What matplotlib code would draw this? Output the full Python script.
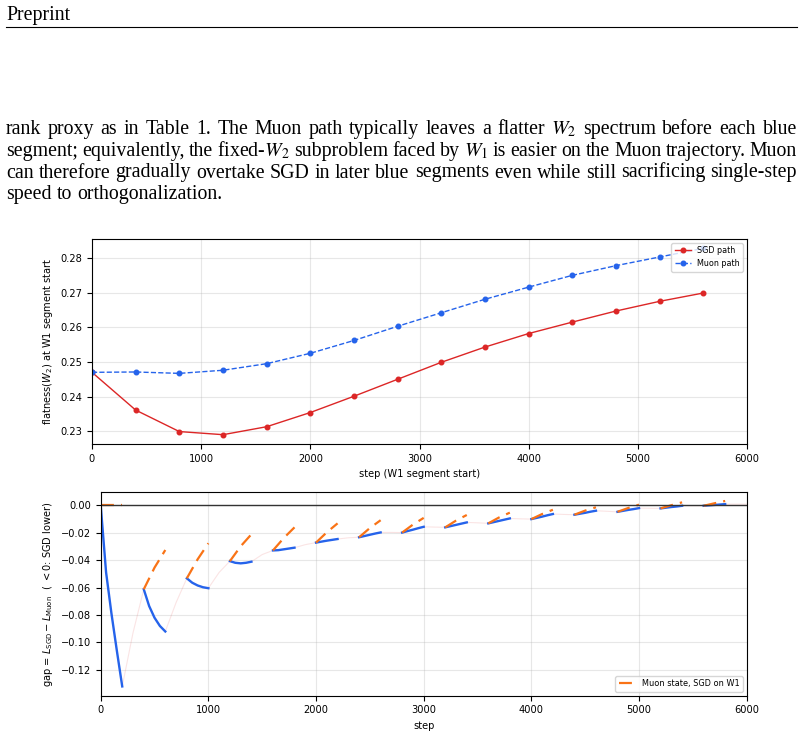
import matplotlib
matplotlib.use("Agg")
import matplotlib.pyplot as plt

W, H = 804, 734

# top panel: flatness of W2 at the start of each W1 segment
seg_start = [0, 400, 800, 1200, 1600, 2000, 2400, 2800, 3200, 3600, 4000, 4400, 4800, 5200, 5600]
sgd_flat = [0.2470, 0.2361, 0.2299, 0.2290, 0.2313, 0.2354, 0.2401, 0.2450, 0.2499, 0.2543,
            0.2582, 0.2615, 0.2647, 0.2675, 0.2699]
muon_flat = [0.2470, 0.2471, 0.2467, 0.2476, 0.2495, 0.2525, 0.2562, 0.2603, 0.2642, 0.2681,
             0.2716, 0.2750, 0.2778, 0.2803, 0.2828]

# bottom panel: gap during the blue (W1) segments
blue_off = [0, 50, 100, 150, 200]
blue_gap = [
    [0.0, -0.049, -0.079, -0.106, -0.132],
    [-0.0613, -0.0735, -0.0820, -0.0880, -0.0920],
    [-0.0533, -0.0565, -0.0585, -0.0598, -0.0605],
    [-0.0408, -0.0420, -0.0424, -0.0420, -0.0412],
    [-0.0330, -0.0328, -0.0322, -0.0316, -0.0310],
    [-0.0273, -0.0266, -0.0259, -0.0253, -0.0247],
    [-0.0234, -0.0225, -0.0216, -0.0207, -0.0199],
    [-0.0200, -0.0189, -0.0179, -0.0168, -0.0158],
    [-0.0162, -0.0153, -0.0144, -0.0135, -0.0126],
    [-0.0133, -0.0124, -0.0115, -0.0106, -0.0097],
    [-0.0102, -0.0093, -0.0084, -0.0074, -0.0065],
    [-0.0070, -0.0063, -0.0056, -0.0048, -0.0041],
    [-0.0049, -0.0042, -0.0035, -0.0029, -0.0022],
    [-0.0024, -0.0019, -0.0014, -0.0010, -0.0005],
    [-0.0005, -0.0002, 0.0001, 0.0004, 0.0007],
]
# Muon state, SGD on W1
orange_off = [0, 100, 200]
orange_gap = [
    [0.0, 0.0, 0.0],
    [-0.0613, -0.0455, -0.0327],
    [-0.0533, -0.0395, -0.0278],
    [-0.0408, -0.0300, -0.0212],
    [-0.0330, -0.0240, -0.0162],
    [-0.0273, -0.0198, -0.0133],
    [-0.0234, -0.0167, -0.0110],
    [-0.0200, -0.0142, -0.0093],
    [-0.0162, -0.0113, -0.0072],
    [-0.0133, -0.0090, -0.0055],
    [-0.0102, -0.0065, -0.0034],
    [-0.0070, -0.0040, -0.0016],
    [-0.0049, -0.0021, 0.0003],
    [-0.0024, -0.0001, 0.0020],
    [-0.0005, 0.0013, 0.0030],
]
# faint trajectory between blue segments (value at segment start + 300)
pink_mid = [-0.093, -0.071, -0.049, -0.036, -0.0288, -0.0238, -0.0199, -0.0160,
            -0.0129, -0.0100, -0.0068, -0.0045, -0.0023, -0.0005, 0.0007]
pink_last = (6000, 0.0007)

para = [
    "rank proxy as in Table 1.  The Muon path typically leaves a flatter $W_2$ spectrum before each blue",
    "segment; equivalently, the fixed-$W_2$ subproblem faced by $W_1$ is easier on the Muon trajectory.  Muon",
    "can therefore gradually overtake SGD in later blue segments even while still sacrificing single-step",
    "speed to orthogonalization.",
]

RED = "#dc2626"
BLUE = "#2563eb"
ORANGE = "#f97316"

fig = plt.figure(figsize=(W / 100, H / 100), dpi=100)

# page header + paragraph
serif = "Liberation Serif"
fs_txt = 14.3
fig.text(6 / W, 1 - 20 / H, "Preprint", fontsize=fs_txt, family=serif, va="baseline")
fig.add_artist(plt.Line2D([6 / W, 797 / W], [1 - 27 / H, 1 - 27 / H], color="black", lw=0.8))

r = fig.canvas.get_renderer()
baselines = [134, 156, 177.5, 199]
for i, line in enumerate(para):
    words = line.split()
    ts = [fig.text(0, 0, w, fontsize=fs_txt, family=serif, math_fontfamily="stix",
                   va="baseline") for w in words]
    widths = [t.get_window_extent(r).width for t in ts]
    if i < len(para) - 1:
        gap = (797 - 6 - sum(widths)) / (len(words) - 1)
    else:
        gap = fs_txt * 100 / 72 * 0.25
    x = 6
    for t, w in zip(ts, widths):
        t.set_position((x / W, 1 - baselines[i] / H))
        x += w + gap

fs = 7.1
plt.rcParams["font.size"] = fs

# top chart
ax1 = fig.add_axes([92 / W, 1 - 444 / H, (747 - 92) / W, (444 - 239) / H])
ax1.plot(seg_start, sgd_flat, "-o", color=RED, lw=1.0, ms=3.3, label="SGD path")
ax1.plot(seg_start, muon_flat, "--o", color=BLUE, lw=1.0, ms=3.3, label="Muon path")
ax1.set_xlim(0, 6000)
ax1.set_xlabel("step (W1 segment start)", fontsize=fs)
ax1.set_ylabel("flatness($W_2$) at W1 segment start", fontsize=fs)
ax1.tick_params(labelsize=fs)
ax1.grid(True, alpha=0.3)
ax1.legend(loc="upper right", fontsize=5.8)

# bottom chart
ax2 = fig.add_axes([100.7 / W, 1 - 695.7 / H, (746.7 - 100.7) / W, (695.7 - 491.7) / H])
px, py = [], []
for k, s in enumerate(seg_start):
    px += [s + o for o in blue_off] + [s + 300]
    py += blue_gap[k] + [pink_mid[k]]
px.append(pink_last[0])
py.append(pink_last[1])
ax2.plot(px, py, color=RED, alpha=0.12, lw=0.8)

for k, s in enumerate(seg_start):
    ax2.plot([s + o for o in blue_off], blue_gap[k], color=BLUE, lw=1.7)
for k, s in enumerate(seg_start):
    ax2.plot([s + o for o in orange_off], orange_gap[k], color=ORANGE, lw=1.6,
             linestyle=(0, (5.8, 3.2)), label="Muon state, SGD on W1" if k == 0 else None)

ax2.axhline(0, color="#333333", lw=1.0)
ax2.set_xlim(0, 6000)
ax2.set_xlabel("step", fontsize=fs)
ax2.set_ylabel(r"gap = $L_{\mathrm{SGD}} - L_{\mathrm{Muon}}$  ( $<0$: SGD lower)", fontsize=fs)
ax2.tick_params(labelsize=fs)
ax2.grid(True, alpha=0.3)
ax2.legend(loc="lower right", fontsize=5.9)

fig.savefig("out.png", dpi=100)
